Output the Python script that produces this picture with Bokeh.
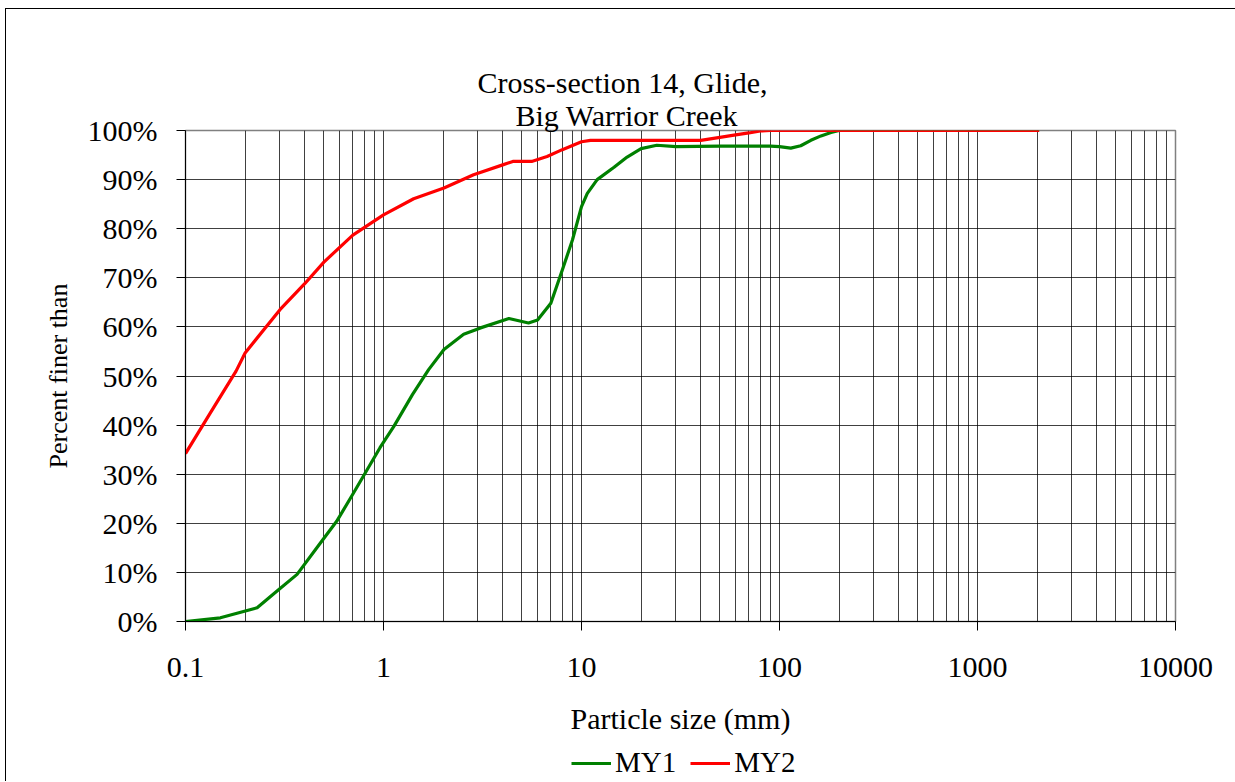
from bokeh.plotting import figure
from bokeh.layouts import column
from bokeh.models import FixedTicker, Title, Legend, LegendItem
from bokeh.embed import file_html
from bokeh.resources import INLINE

# ---- data ----
my1_size = [0.1, 0.15, 0.23, 0.29, 0.366, 0.48, 0.58, 0.69, 0.81, 0.96, 1.13, 1.40, 1.69,
            2.02, 2.54, 3.09, 4.3, 5.4, 6.0, 7.0, 8.0, 9.0, 10.0, 10.7, 12.0, 14.6, 17.0,
            20.0, 24.0, 30, 50, 90, 100, 114, 128, 144, 162, 182, 200, 2048]
my1_pct = [0.0, 0.75, 2.8, 6.2, 9.6, 16.0, 20.4, 25.5, 30.3, 35.4, 39.8, 46.2, 51.3,
           55.4, 58.5, 59.8, 61.7, 60.8, 61.4, 64.8, 71.6, 77.7, 84.5, 87.2, 90.0, 92.5, 94.6,
           96.3, 97.0, 96.7, 96.8, 96.8, 96.7, 96.4, 96.9, 98.0, 98.9, 99.6, 100, 100]
my2_size = [0.1, 0.134, 0.18, 0.2, 0.3, 0.4, 0.5, 0.7, 1.0, 1.42, 2.02, 2.85, 4.0, 4.5,
            5.6, 6.7, 8.0, 10.0, 11.1, 40, 50, 60, 70, 80, 90, 2048]
my2_pct = [34.2, 42.6, 51.0, 54.7, 63.5, 68.8, 73.2, 78.7, 82.8, 86.1, 88.3, 91.0, 93.0, 93.7,
           93.7, 94.7, 96.1, 97.7, 98.0, 98.0, 98.6, 99.1, 99.5, 99.9, 100, 100]
series_names = ["MY1", "MY2"]
series_colors = ["#008000", "#FF0000"]
x_ticks = [0.1, 1, 10, 100, 1000, 10000]
x_tick_labels = ["0.1", "1", "10", "100", "1000", "10000"]
y_ticks = list(range(0, 101, 10))
y_tick_labels = [f"{v}%" for v in y_ticks]
title_lines = ["Cross-section  14, Glide,", "Big Warrior Creek"]
x_label = "Particle size (mm)"
y_label = "Percent finer than"

series = [(my1_size, my1_pct), (my2_size, my2_pct)]

FONT = "Liberation Serif"
TFONT = "'Liberation Serif', serif"

W = 1229
H_MAIN, H_LEG = 735, 37
p = figure(width=W, height=H_MAIN, x_axis_type="log", x_range=(0.1, 10000), y_range=(0, 100),
           output_backend="svg", toolbar_location=None, title=None,
           min_border_left=179, min_border_right=60, min_border_top=121, min_border_bottom=123)

# grid lines at every 1..9 x decade
grid_vals = []
for d in [0.1, 1, 10, 100, 1000]:
    for k in range(1, 10):
        grid_vals.append(round(k * d, 6))
grid_vals.append(10000)
p.xgrid.ticker = FixedTicker(ticks=grid_vals)
p.ygrid.ticker = FixedTicker(ticks=y_ticks)
for g in (p.xgrid, p.ygrid):
    g.grid_line_color = "#000000"
    g.grid_line_alpha = 0.75
    g.grid_line_width = 1

p.outline_line_color = "#808080"
p.outline_line_width = 1.5

p.xaxis.ticker = FixedTicker(ticks=x_ticks)
p.xaxis.major_label_overrides = {t: l for t, l in zip(x_ticks, x_tick_labels)}
p.yaxis.ticker = FixedTicker(ticks=y_ticks)
p.yaxis.major_label_overrides = {t: l for t, l in zip(y_ticks, y_tick_labels)}
for ax in (p.xaxis, p.yaxis):
    ax.axis_line_color = "#000000"
    ax.major_tick_line_color = "#000000"
    ax.major_tick_out = 9
    ax.major_tick_in = 0
    ax.minor_tick_line_color = None
    ax.major_label_text_font = FONT
    ax.major_label_text_font_size = "30px"
    ax.major_label_text_color = "#000000"
    ax.axis_label_text_font = FONT
    ax.axis_label_text_font_style = "normal"
    ax.axis_label_text_color = "#000000"
p.xaxis.major_label_standoff = 27
p.yaxis.major_label_standoff = 19
p.xaxis.axis_label = x_label
p.xaxis.axis_label_text_font_size = "30px"
p.xaxis.axis_label_standoff = 22
p.yaxis.axis_label = y_label
p.yaxis.axis_label_text_font_size = "26px"
p.yaxis.axis_label_standoff = 12

for (xs, ys), c in zip(series, series_colors):
    p.line(xs, ys, line_color=c, line_width=3.2, line_join="round")

# two-line title (first added sits nearest the plot)
for txt, off in zip(reversed(title_lines), [330, 292]):
    p.add_layout(Title(text=txt, align="left", offset=off, text_font=TFONT,
                       text_font_size="30px", text_font_style="normal",
                       text_color="#000000", standoff=-2), "above")

# legend strip below the chart (its frame is aligned with the chart's frame);
# the series are drawn here far outside the visible y range, only to key the legend
lg = figure(width=W, height=H_LEG, output_backend="svg", toolbar_location=None,
            x_axis_type="log", x_range=(0.1, 10000), y_range=(1000, 1001),
            min_border=0, title=None)
lg.axis.visible = False
lg.grid.visible = False
lg.outline_line_color = None
leg_renderers = [lg.line(xs, ys, line_color=c, line_width=3.2)
                 for (xs, ys), c in zip(series, series_colors)]
legend = Legend(items=[LegendItem(label=n, renderers=[r]) for n, r in zip(series_names, leg_renderers)],
                orientation="horizontal", location=(386, 2),
                label_text_font=FONT, label_text_font_size="29px", label_text_color="#000000",
                glyph_width=40, spacing=14, padding=0, margin=0,
                border_line_color=None, background_fill_alpha=0,
                label_standoff=4)
lg.add_layout(legend, "center")

layout = column(p, lg, spacing=0)
layout.styles = {"border-left": "1px solid #000000", "border-top": "1px solid #000000",
                 "margin-left": "5px", "margin-top": "8px"}

open("out.html", "w").write(file_html(layout, INLINE))
